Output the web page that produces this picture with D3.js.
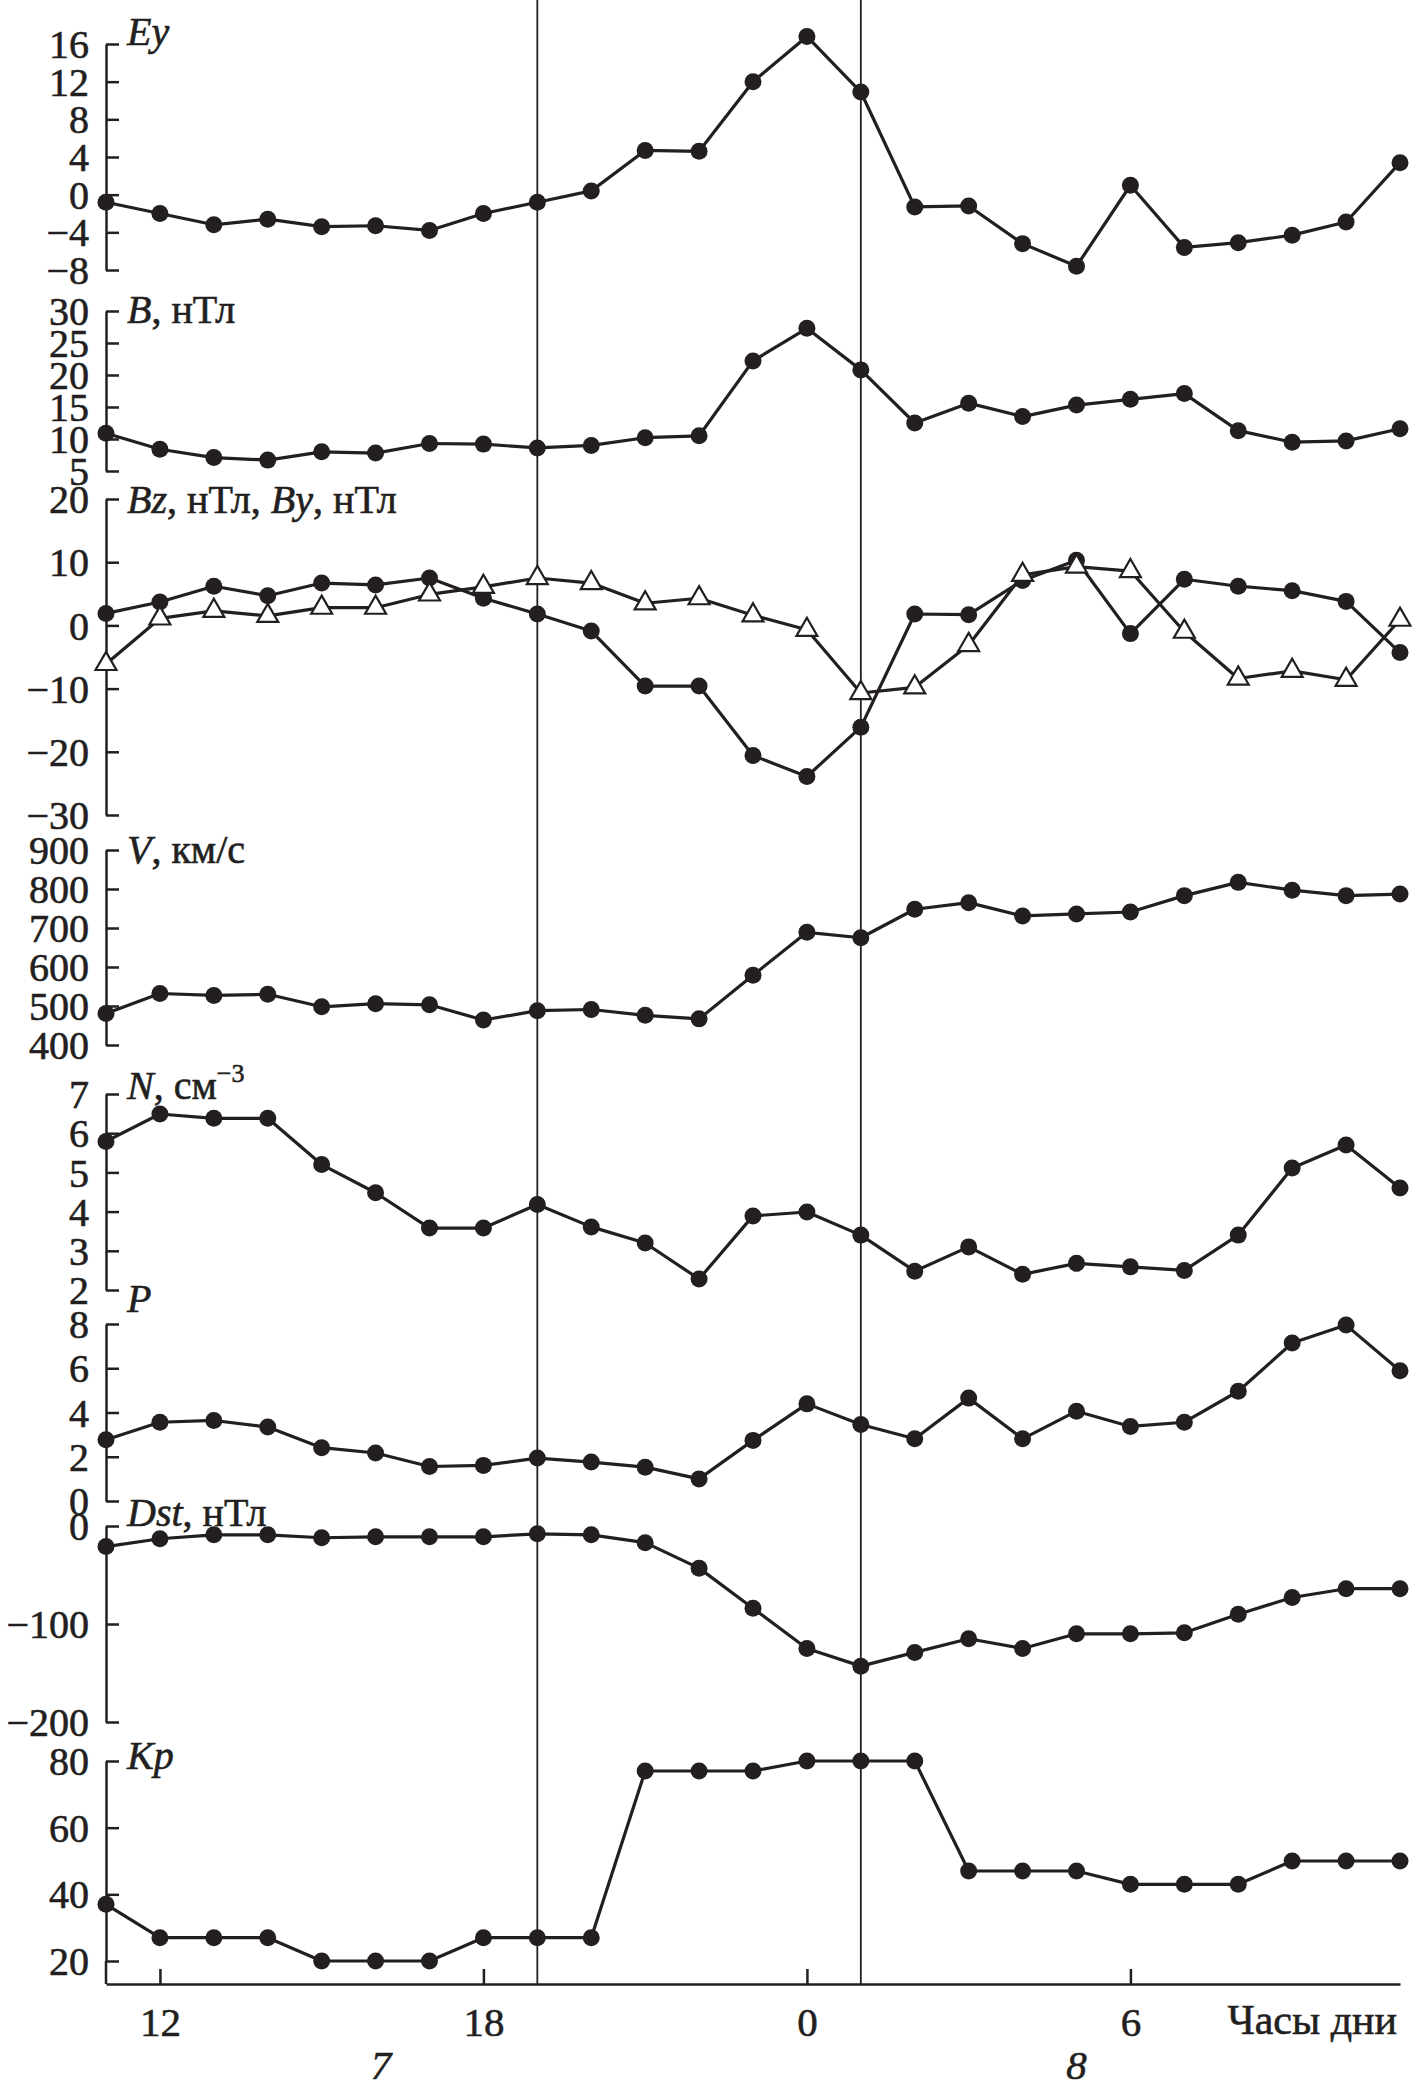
<!DOCTYPE html>
<html>
<head>
<meta charset="utf-8">
<title>Ey, B, Bz, By, V, N, P, Dst, Kp</title>
<script src="https://cdn.jsdelivr.net/npm/d3@7"></script>
<style>
    body { margin: 0; background: #fff; }
    .axis path, .axis line { stroke: #231f20; stroke-width: 2.5; }
    .series { fill: none; stroke: #231f20; stroke-width: 3.2; stroke-linejoin: round; }
    .dot { fill: #231f20; }
    .tri { fill: #fff; stroke: #231f20; stroke-width: 2.2; }
    .hourLine { stroke: #231f20; stroke-width: 1.8; }
</style>
</head>
<body>
<script>
(function (){

    //one point per hour, from 11 h of day 7 to 11 h of day 8
    var hours = [11, 12, 13, 14, 15, 16, 17, 18, 19, 20, 21, 22, 23, 24, 25, 26, 27, 28, 29, 30, 31, 32, 33, 34, 35];

    //series values
    var eyValues = [-0.8, -2.0, -3.2, -2.6, -3.4, -3.3, -3.8, -2.0, -0.8, 0.4, 4.7, 4.6, 12.0, 16.8, 10.9, -1.3, -1.2, -5.2, -7.6, 1.0, -5.6, -5.1, -4.3, -2.9, 3.4];
    var bValues = [10.9, 8.4, 7.1, 6.7, 8.0, 7.8, 9.3, 9.2, 8.6, 9.0, 10.2, 10.5, 22.2, 27.3, 20.8, 12.5, 15.6, 13.5, 15.3, 16.2, 17.1, 11.3, 9.5, 9.7, 11.6];
    var bzValues = [1.9, 3.7, 6.2, 4.7, 6.7, 6.4, 7.5, 4.3, 1.8, -0.9, -9.6, -9.6, -20.6, -23.9, -16.1, 1.8, 1.7, 7.1, 10.3, -1.3, 7.3, 6.2, 5.5, 3.8, -4.3];
    var byValues = [-6.1, 1.1, 2.3, 1.5, 2.8, 2.8, 4.9, 6.1, 7.5, 6.7, 3.5, 4.3, 1.6, -0.7, -10.7, -9.8, -3.1, 8.0, 9.3, 8.6, -1.0, -8.4, -7.2, -8.6, 0.9];
    var vValues = [481, 532, 527, 530, 498, 506, 503, 464, 488, 491, 476, 467, 579, 689, 675, 748, 765, 731, 736, 741, 783, 817, 797, 783, 787];
    var nValues = [5.79, 6.49, 6.38, 6.38, 5.2, 4.48, 3.58, 3.58, 4.18, 3.61, 3.2, 2.28, 3.89, 3.99, 3.4, 2.48, 3.1, 2.4, 2.68, 2.59, 2.5, 3.4, 5.11, 5.7, 4.6];
    var pValues = [2.77, 3.56, 3.64, 3.34, 2.41, 2.17, 1.56, 1.61, 1.94, 1.76, 1.53, 1.0, 2.74, 4.39, 3.46, 2.81, 4.65, 2.81, 4.06, 3.37, 3.56, 4.96, 7.14, 7.95, 5.89];
    var dstValues = [-21, -13, -9, -9, -12, -11, -11, -11, -8, -9, -17, -43, -84, -125, -143, -129, -115, -125, -110, -110, -109, -90, -73, -64, -64];
    var kpValues = [37, 27, 27, 27, 20, 20, 20, 27, 27, 27, 77, 77, 77, 80, 80, 80, 47, 47, 47, 43, 43, 43, 50, 50, 50];

    //tick values of each panel
    var eyTicks = [-8, -4, 0, 4, 8, 12, 16];
    var bTicks = [5, 10, 15, 20, 25, 30];
    var bzTicks = [-30, -20, -10, 0, 10, 20];
    var vTicks = [400, 500, 600, 700, 800, 900];
    var nTicks = [2, 3, 4, 5, 6, 7];
    var pTicks = [0, 2, 4, 6, 8];
    var dstTicks = [-200, -100, 0];
    var kpTicks = [20, 40, 60, 80];

    //hour axis
    var hourTicks = [12, 18, 24, 30];
    var hourTickLabels = ["12", "18", "0", "6"];
    var dayLabels = ["7", "8"];
    var dayLabelHours = [16.1, 29];
    var lineHours = [19, 25]; //the two vertical lines

    var serif = "'Liberation Serif', 'Times New Roman', serif",
        ink = "#231f20";

    //begin script when window loads
    window.onload = setChart();

    //give a text selection the serif look of the figure
    function serifText(sel, size){
        sel.style("font-family", serif)
            .style("font-size", size + "px")
            .style("fill", ink)
            .style("stroke", ink)
            .style("stroke-width", 0.6);
    }

    function setChart(){

        var width = 1412,
            height = 2091,
            axisX = 106,
            xAxisY = 1984;

        var svg = d3.select("body")
            .append("svg")
            .attr("width", width)
            .attr("height", height);

        var x = d3.scaleLinear()
            .domain([11, 35])
            .range([axisX, 1400]);

        //panel frames (pixel top/bottom of the value axis) and titles
        var panels = [
            {series: [eyValues], ticks: eyTicks, top: 44, bottom: 270, titleY: 45,
                title: [["Ey", "i"]]},
            {series: [bValues], ticks: bTicks, top: 311, bottom: 471, titleY: 323,
                title: [["B", "i"], [", нТл", "n"]]},
            {series: [bzValues, byValues], ticks: bzTicks, top: 499, bottom: 815, titleY: 513,
                title: [["Bz", "i"], [", нТл, ", "n"], ["By", "i"], [", нТл", "n"]]},
            {series: [vValues], ticks: vTicks, top: 850, bottom: 1045, titleY: 863,
                title: [["V", "i"], [", км/с", "n"]]},
            {series: [nValues], ticks: nTicks, top: 1094, bottom: 1290, titleY: 1099,
                title: [["N", "i"], [", см", "n"], ["−3", "s"]]},
            {series: [pValues], ticks: pTicks, top: 1324, bottom: 1501, titleY: 1312,
                title: [["P", "i"]]},
            {series: [dstValues], ticks: dstTicks, top: 1526, bottom: 1722, titleY: 1526,
                title: [["Dst", "i"], [", нТл", "n"]]},
            {series: [kpValues], ticks: kpTicks, top: 1761, bottom: 1961, titleY: 1769,
                title: [["Kp", "i"]]}
        ];

        //vertical lines through all panels
        svg.selectAll(".hourLine")
            .data(lineHours)
            .enter()
            .append("line")
            .attr("class", "hourLine")
            .attr("x1", function(d){ return x(d); })
            .attr("x2", function(d){ return x(d); })
            .attr("y1", 0)
            .attr("y2", xAxisY);

        panels.forEach(function(p){
            drawPanel(svg, x, axisX, p);
        });

        //the Kp axis runs down to the hour axis
        svg.append("line")
            .attr("x1", axisX)
            .attr("x2", axisX)
            .attr("y1", panels[7].bottom)
            .attr("y2", xAxisY)
            .style("stroke", ink)
            .style("stroke-width", 2.5);

        setHourAxis(svg, x, xAxisY);
    }

    function drawPanel(svg, x, axisX, p){
        var y = d3.scaleLinear()
            .domain(d3.extent(p.ticks))
            .range([p.bottom, p.top]);

        var yAxis = d3.axisLeft(y)
            .tickValues(p.ticks)
            .tickFormat(d3.format("d"))
            .tickSizeInner(-13)
            .tickSizeOuter(0)
            .tickPadding(17);

        var axis = svg.append("g")
            .attr("class", "axis")
            .attr("transform", "translate(" + axisX + ",0)")
            .call(yAxis);
        axis.selectAll("text")
            .attr("dy", "0.34em")
            .call(serifText, 40);

        //title with italic symbols
        var title = svg.append("text")
            .attr("x", axisX + 21)
            .attr("y", p.titleY)
            .call(serifText, 40);
        p.title.forEach(function(part){
            var t = title.append("tspan").text(part[0]);
            if (part[1] == "i") t.style("font-style", "italic");
            if (part[1] == "s") t.attr("dy", -17).style("font-size", "26px");
        });

        var line = d3.line()
            .x(function(d, i){ return x(hours[i]); })
            .y(function(d){ return y(d); });

        p.series.forEach(function(values, k){
            svg.append("path")
                .datum(values)
                .attr("class", "series")
                .attr("d", line);

            if (k == 0){
                svg.selectAll(null)
                    .data(values)
                    .enter()
                    .append("circle")
                    .attr("class", "dot")
                    .attr("cx", function(d, i){ return x(hours[i]); })
                    .attr("cy", function(d){ return y(d); })
                    .attr("r", 8.5);
            } else {
                var tri = d3.symbol().type(d3.symbolTriangle).size(190);
                svg.selectAll(null)
                    .data(values)
                    .enter()
                    .append("path")
                    .attr("class", "tri")
                    .attr("d", tri)
                    .attr("transform", function(d, i){
                        return "translate(" + x(hours[i]) + "," + y(d) + ")";
                    });
            }
        });
    }

    function setHourAxis(svg, x, xAxisY){
        var xAxis = d3.axisBottom(x)
            .tickValues(hourTicks)
            .tickFormat(function(d, i){ return hourTickLabels[i]; })
            .tickSizeInner(-15)
            .tickSizeOuter(0)
            .tickPadding(23);

        svg.append("g")
            .attr("class", "axis")
            .attr("transform", "translate(0," + xAxisY + ")")
            .call(xAxis)
            .selectAll("text")
            .call(serifText, 41);

        svg.append("text")
            .attr("x", 1397)
            .attr("y", 2034)
            .attr("text-anchor", "end")
            .text("Часы дни")
            .call(serifText, 42);

        svg.selectAll(".dayLabel")
            .data(dayLabels)
            .enter()
            .append("text")
            .attr("class", "dayLabel")
            .attr("x", function(d, i){ return x(dayLabelHours[i]); })
            .attr("y", 2079)
            .attr("text-anchor", "middle")
            .text(function(d){ return d; })
            .call(serifText, 41)
            .style("font-style", "italic");
    }

})();
</script>
</body>
</html>
